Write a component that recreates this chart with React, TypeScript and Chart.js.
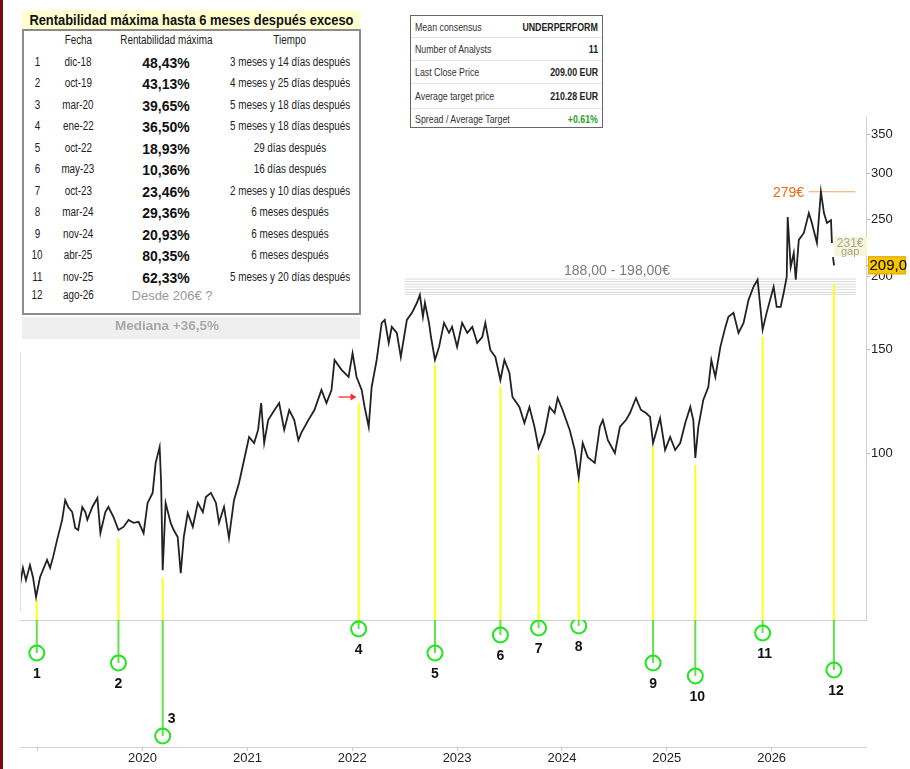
import React, { useEffect, useRef } from "react";
import { Chart, registerables } from "chart.js";

Chart.register(...registerables);

const FONT = '"Liberation Sans", Arial, Helvetica, sans-serif';

// ---------- price series (decimal year, EUR) ----------
const priceDates = [
  2018.831, 2018.859, 2018.888, 2018.926, 2018.955, 2018.984, 2019.022, 2019.089, 2019.118, 2019.147,
  2019.185, 2019.233, 2019.262, 2019.291, 2019.329, 2019.358, 2019.386, 2019.425, 2019.454, 2019.473,
  2019.521, 2019.569, 2019.598, 2019.645, 2019.674, 2019.722, 2019.770, 2019.818, 2019.866, 2019.914,
  2019.962, 2020.010, 2020.048, 2020.096, 2020.125, 2020.163, 2020.177, 2020.192, 2020.220, 2020.268,
  2020.297, 2020.335, 2020.364, 2020.393, 2020.431, 2020.479, 2020.527, 2020.575, 2020.604, 2020.652,
  2020.700, 2020.729, 2020.777, 2020.824, 2020.872, 2020.920, 2020.968, 2021.016, 2021.064, 2021.102,
  2021.131, 2021.160, 2021.198, 2021.246, 2021.303, 2021.351, 2021.399, 2021.447, 2021.486, 2021.514,
  2021.581, 2021.639, 2021.706, 2021.754, 2021.802, 2021.831, 2021.898, 2021.965, 2022.003, 2022.041,
  2022.090, 2022.118, 2022.157, 2022.185, 2022.233, 2022.281, 2022.310, 2022.348, 2022.377, 2022.425,
  2022.463, 2022.521, 2022.569, 2022.617, 2022.645, 2022.674, 2022.693, 2022.732, 2022.751, 2022.789,
  2022.828, 2022.875, 2022.923, 2022.952, 2023.000, 2023.048, 2023.097, 2023.145, 2023.192, 2023.240,
  2023.269, 2023.317, 2023.365, 2023.413, 2023.451, 2023.499, 2023.528, 2023.594, 2023.642, 2023.690,
  2023.738, 2023.777, 2023.834, 2023.882, 2023.930, 2023.959, 2024.006, 2024.074, 2024.122, 2024.160,
  2024.198, 2024.246, 2024.313, 2024.361, 2024.390, 2024.438, 2024.505, 2024.553, 2024.610, 2024.649,
  2024.706, 2024.754, 2024.802, 2024.840, 2024.869, 2024.936, 2024.984, 2025.032, 2025.080, 2025.128,
  2025.176, 2025.224, 2025.253, 2025.272, 2025.301, 2025.348, 2025.396, 2025.425, 2025.463, 2025.511,
  2025.559, 2025.588, 2025.636, 2025.684, 2025.732, 2025.780, 2025.827, 2025.866, 2025.895, 2025.914,
  2025.952, 2026.019, 2026.048, 2026.086, 2026.115, 2026.144, 2026.153, 2026.182, 2026.211, 2026.230,
  2026.259, 2026.307, 2026.355, 2026.384, 2026.432, 2026.470, 2026.499, 2026.528, 2026.566, 2026.575,
  2026.580, 2026.585, 2026.595,
];
const priceValues: (number | null)[] = [
  59.5, 63.7, 60.7, 64.4, 61.4, 56.8, 61.4, 65.7, 63.7, 66.5,
  71.1, 76.9, 83.1, 80.9, 79.3, 74.5, 73.9, 80.9, 79.3, 76.9,
  80.9, 83.8, 73.0, 79.3, 80.9, 77.8, 73.9, 74.8, 76.9, 76.0,
  76.3, 73.0, 82.2, 85.5, 96.2, 102.4, 88.9, 63.1, 82.2, 76.0,
  73.9, 71.9, 62.4, 71.9, 79.0, 74.8, 82.2, 79.3, 84.1, 85.5,
  82.2, 76.0, 80.9, 71.6, 83.1, 88.9, 97.3, 106.5, 104.0, 109.5,
  121.7, 104.0, 113.8, 117.5, 121.7, 109.5, 118.4, 113.8, 105.2, 108.2,
  113.8, 118.4, 128.1, 121.7, 128.1, 144.1, 138.6, 134.8, 148.0, 134.8,
  128.1, 119.8, 110.8, 129.6, 144.1, 166.7, 168.7, 154.1, 164.1, 160.3,
  145.8, 168.7, 173.4, 180.4, 186.1, 170.7, 180.4, 166.7, 157.7, 144.1,
  151.7, 166.7, 160.3, 164.1, 151.7, 166.7, 160.3, 164.1, 154.1, 157.7,
  166.7, 149.9, 145.8, 133.2, 144.1, 136.9, 124.6, 119.8, 112.5, 119.8,
  110.8, 102.0, 108.2, 119.8, 117.0, 124.1, 118.4, 109.5, 101.2, 91.0,
  104.0, 98.4, 96.2, 110.8, 113.8, 105.2, 100.0, 110.8, 113.8, 117.0,
  124.1, 118.4, 117.0, 115.2, 104.0, 114.7, 101.2, 106.5, 101.2, 104.0,
  112.5, 119.8, 113.8, 98.1, 110.8, 123.2, 129.6, 144.1, 134.8, 151.7,
  164.1, 170.7, 173.4, 160.3, 166.7, 182.5, 192.1, 197.5, 175.5, 162.2,
  173.4, 192.1, 177.5, 177.5, 187.6, 199.8, 252.6, 207.7, 219.3, 197.5,
  230.9, 237.3, 256.6, 246.8, 228.1, 279.0, 256.6, 246.8, 249.6, 228.1,
  null, 215.9, 209.0,
];

// ---------- signals ----------
const eventLabels = ["1", "2", "3", "4", "5", "6", "7", "8", "9", "10", "11", "12"];
const eventDates = [2018.991, 2019.770, 2020.192, 2022.061, 2022.789, 2023.413, 2023.777, 2024.160, 2024.869, 2025.272, 2025.914, 2026.594];
const eventLows = [56.1, 71.6, 61.2, 121.7, 141.3, 129.6, 99.2, 89.9, 102.4, 95.4, 157.7, 194.4];
const eventDepths = [33, 43, 116, 9, 33, 15, 8, 6, 43, 56, 13, 50];

// ---------- axes ----------
const yearTicks = [2019, 2020, 2021, 2022, 2023, 2024, 2025, 2026];
const yearTickLabels = ["", "2020", "2021", "2022", "2023", "2024", "2025", "2026"];
const priceTicks = [100, 150, 200, 250, 300, 350];
const priceTickLabels = ["100", "150", "200", "250", "300", "350"];
const X_MIN = 2018.831;
const X_MAX = 2026.9;
const PRICE_MIN = 51.9;
const PRICE_MAX = 374.2;
const DEPTH_MAX = 127;

// ---------- annotations ----------
const bandLevels = [198, 196, 194, 192, 190, 188, 186.5];
const bandStart = 2022.5;
const bandEnd = 2026.805;
const bandLabel = "188,00 - 198,00€";
const bandLabelDate = 2024.02;
const bandLabelPrice = 204.5;
const peakPrice = 279;
const peakLabel = "279€";
const peakLabelDate = 2026.31;
const peakLineStart = 2026.355;
const peakLineEnd = 2026.8;
const gapPrice = 231;
const gapLabel = "231€";
const gapSub = "gap";
const gapLabelDate = 2026.749;
const lastClose = 209.0;
const lastCloseLabel = "209,0";
const arrowFrom = 2021.869;
const arrowTo = 2022.041;
const arrowPrice = 124.6;

// ---------- table ----------
const tableHeader = ["Fecha", "Rentabilidad máxima", "Tiempo"];
const tableIndex = ["1", "2", "3", "4", "5", "6", "7", "8", "9", "10", "11", "12"];
const tableFecha = ["dic-18", "oct-19", "mar-20", "ene-22", "oct-22", "may-23", "oct-23", "mar-24", "nov-24", "abr-25", "nov-25", "ago-26"];
const tableRent = ["48,43%", "43,13%", "39,65%", "36,50%", "18,93%", "10,36%", "23,46%", "29,36%", "20,93%", "80,35%", "62,33%"];
const tableTiempo = [
  "3 meses y 14 días después", "4 meses y 25 días después", "5 meses y 18 días después", "5 meses y 18 días después",
  "29 días después", "16 días después", "2 meses y 10 días después", "6 meses después", "6 meses después",
  "6 meses después", "5 meses y 20 días después",
];
const tableLastNote = "Desde 206€ ?";
const tableTitle = "Rentabilidad máxima hasta 6 meses después exceso";
const medianLabel = "Mediana +36,5%";

const infoLabels = ["Mean consensus", "Number of Analysts", "Last Close Price", "Average target price", "Spread / Average Target"];
const infoValues = ["UNDERPERFORM", "11", "209.00 EUR", "210.28 EUR", "+0.61%"];

const overlayPlugin = {
  id: "overlayText",
  afterDatasetsDraw(chart: any) {
    const { ctx, chartArea } = chart;
    const x = chart.scales.x;
    const y = chart.scales.y;
    const y2 = chart.scales.y2;
    ctx.save();
    // left border of plot (below the table)
    ctx.strokeStyle = "#dedede";
    ctx.lineWidth = 1;
    ctx.beginPath();
    ctx.moveTo(chartArea.left + 0.5, y.top + 235);
    ctx.lineTo(chartArea.left + 0.5, y.bottom - 8);
    ctx.stroke();

    // band label
    ctx.font = `14px ${FONT}`;
    ctx.fillStyle = "#7a7a7a";
    ctx.textAlign = "left";
    ctx.textBaseline = "middle";
    ctx.fillText(bandLabel, x.getPixelForValue(bandLabelDate), y.getPixelForValue(bandLabelPrice));

    // peak label
    ctx.fillStyle = "#e8690f";
    ctx.textAlign = "right";
    ctx.fillText(peakLabel, x.getPixelForValue(peakLabelDate), y.getPixelForValue(peakPrice) + 1);

    // gap label
    const gx = x.getPixelForValue(gapLabelDate);
    const gy = y.getPixelForValue(gapPrice);
    ctx.fillStyle = "#f6f6d4";
    ctx.fillRect(gx - 16, gy - 3, 33, 19);
    ctx.fillStyle = "#a3a3a3";
    ctx.textAlign = "center";
    ctx.font = `12px ${FONT}`;
    ctx.fillText(gapLabel, gx, gy + 4);
    ctx.font = `11px ${FONT}`;
    ctx.fillText(gapSub, gx, gy + 12.5);

    // red arrow
    const ax0 = x.getPixelForValue(arrowFrom);
    const ax1 = x.getPixelForValue(arrowTo);
    const ay = y.getPixelForValue(arrowPrice);
    ctx.strokeStyle = "#ff2a2a";
    ctx.fillStyle = "#ff2a2a";
    ctx.lineWidth = 1.3;
    ctx.beginPath();
    ctx.moveTo(ax0, ay);
    ctx.lineTo(ax1 - 3, ay);
    ctx.stroke();
    ctx.beginPath();
    ctx.moveTo(ax1, ay);
    ctx.lineTo(ax1 - 6, ay - 3.5);
    ctx.lineTo(ax1 - 6, ay + 3.5);
    ctx.closePath();
    ctx.fill();

    // circle labels
    ctx.font = `bold 14px ${FONT}`;
    ctx.fillStyle = "#111";
    ctx.textAlign = "center";
    ctx.textBaseline = "middle";
    eventLabels.forEach((lab, i) => {
      const px = x.getPixelForValue(eventDates[i]);
      const py = y2.getPixelForValue(eventDepths[i]);
      if (i === 2) ctx.fillText(lab, px + 9, py - 17);
      else ctx.fillText(lab, px + (lab.length > 1 ? 2 : 0), py + 21);
    });
    ctx.restore();
  },
  afterDraw(chart: any) {
    const { ctx, chartArea } = chart;
    const y = chart.scales.y;
    const py = y.getPixelForValue(lastClose);
    const left = chartArea.right + 2;
    ctx.save();
    ctx.strokeStyle = "#aaa";
    ctx.beginPath();
    ctx.moveTo(chartArea.right, py + 0.5);
    ctx.lineTo(chartArea.right + 3, py + 0.5);
    ctx.stroke();
    ctx.fillStyle = "#f7c500";
    ctx.fillRect(left, py - 9, 38, 18);
    ctx.strokeStyle = "#dba900";
    ctx.strokeRect(left + 0.5, py - 8.5, 37, 17);
    ctx.fillStyle = "#000";
    ctx.font = `15px ${FONT}`;
    ctx.textAlign = "left";
    ctx.textBaseline = "middle";
    ctx.fillText(lastCloseLabel, left + 1.5, py + 1);
    ctx.restore();
  },
};

function buildConfig(): any {
  const priceData = priceDates.map((d, i) => ({ x: d, y: priceValues[i] }));
  const yellowData = eventDates.flatMap((d, i) => [
    { x: d, y: eventLows[i] },
    { x: d, y: PRICE_MIN },
    { x: d, y: null },
  ]);
  const greenData = eventDates.flatMap((d, i) => [
    { x: d, y: 0 },
    { x: d, y: eventDepths[i] },
    { x: d, y: null },
  ]);
  const circleData = eventDates.map((d, i) => ({ x: d, y: eventDepths[i] }));
  const bandData = bandLevels.flatMap((l) => [
    { x: bandStart, y: l },
    { x: bandEnd, y: l },
    { x: bandEnd, y: null },
  ]);
  const peakData = [
    { x: peakLineStart, y: peakPrice },
    { x: peakLineEnd, y: peakPrice },
  ];
  const base = { pointRadius: 0, spanGaps: false, tension: 0, fill: false };
  return {
    type: "line",
    data: {
      datasets: [
        { ...base, data: bandData, yAxisID: "y", borderColor: "#dadada", borderWidth: 1, order: 5 },
        { ...base, data: yellowData, yAxisID: "y", borderColor: "#ffff1a", borderWidth: 2, order: 4 },
        { ...base, data: greenData, yAxisID: "y2", borderColor: "#62e24a", borderWidth: 2, order: 3 },
        { ...base, data: peakData, yAxisID: "y", borderColor: "#f2a06a", borderWidth: 1, order: 2 },
        { ...base, data: priceData, yAxisID: "y", borderColor: "#222222", borderWidth: 1.8, order: 1 },
        {
          data: circleData,
          yAxisID: "y2",
          showLine: false,
          pointRadius: 7.5,
          pointHoverRadius: 7.5,
          pointBorderWidth: 2,
          pointBorderColor: "#1fe61f",
          pointBackgroundColor: "rgba(0,0,0,0)",
          order: 0,
        },
      ],
    },
    options: {
      animation: false,
      responsive: false,
      maintainAspectRatio: false,
      events: [],
      layout: { padding: { left: 20, top: 117, right: 0, bottom: 0 } },
      plugins: { legend: { display: false }, tooltip: { enabled: false } },
      scales: {
        x: {
          type: "linear",
          position: "bottom",
          min: X_MIN,
          max: X_MAX,
          afterBuildTicks: (s: any) => {
            s.ticks = yearTicks.map((v) => ({ value: v }));
          },
          afterFit: (s: any) => {
            s.height = 22;
          },
          ticks: {
            callback: (_v: any, i: number) => yearTickLabels[i],
            font: { family: FONT, size: 13 },
            color: "#222",
            padding: 0,
            maxRotation: 0,
            autoSkip: false,
          },
          grid: { drawOnChartArea: false, drawTicks: true, tickLength: 4, color: "#c8c8c8" },
          border: { color: "#d0d0d0" },
        },
        y: {
          type: "logarithmic",
          position: "right",
          stack: "panels",
          stackWeight: 503,
          min: PRICE_MIN,
          max: PRICE_MAX,
          afterBuildTicks: (s: any) => {
            s.ticks = priceTicks.map((v) => ({ value: v }));
          },
          afterFit: (s: any) => {
            s.width = 44;
          },
          ticks: {
            callback: (_v: any, i: number) => priceTickLabels[i],
            font: { family: FONT, size: 13 },
            color: "#222",
            padding: 1,
            autoSkip: false,
          },
          grid: { drawOnChartArea: false, drawTicks: true, tickLength: 4, color: "#b5b5b5" },
          border: { color: "#d0d0d0" },
        },
        y2: {
          type: "linear",
          position: "right",
          stack: "panels",
          stackWeight: 127,
          min: 0,
          max: DEPTH_MAX,
          reverse: true,
          afterBuildTicks: (s: any) => {
            s.ticks = [{ value: 0 }];
          },
          afterFit: (s: any) => {
            s.width = 44;
          },
          ticks: { display: false },
          grid: { drawOnChartArea: true, drawTicks: false, color: "#cfcfcf" },
          border: { display: false },
        },
      },
    },
    plugins: [overlayPlugin],
  };
}

function Cell(props: { cx: number; cy: number; w?: number; sx?: number; style?: React.CSSProperties; children: React.ReactNode }) {
  const w = props.w ?? 180;
  return (
    <div
      style={{
        position: "absolute",
        left: props.cx - w / 2,
        top: props.cy - 10,
        width: w,
        height: 20,
        lineHeight: "20px",
        textAlign: "center",
        whiteSpace: "nowrap",
        ...props.style,
      }}
    >
      <span style={{ display: "inline-block", transform: `scaleX(${props.sx ?? 1})`, transformOrigin: "center" }}>
        {props.children}
      </span>
    </div>
  );
}

export default function App() {
  const ref = useRef<HTMLCanvasElement>(null);
  useEffect(() => {
    const chart = new Chart(ref.current as HTMLCanvasElement, buildConfig());
    return () => chart.destroy();
  }, []);

  const narrow: React.CSSProperties = { font: `12.5px ${FONT}`, color: "#222" };
  const NS = 0.79;
  const rowY = (i: number) => (i < 11 ? 65 + i * 21.45 : 298);
  const infoHeights = [22, 23, 23, 25, 19];

  return (
    <div style={{ position: "relative", width: 910, height: 769, background: "#fff", overflow: "hidden", fontFamily: FONT }}>
      <style>{"html,body{margin:0;padding:0;background:#fff}"}</style>
      <canvas ref={ref} width={910} height={769} style={{ position: "absolute", left: 0, top: 0, width: 910, height: 769 }} />
      <div style={{ position: "absolute", left: 0, top: 0, width: 3, height: 769, background: "#7d0b0b" }} />

      {/* table title */}
      <div
        style={{
          position: "absolute",
          left: 22,
          top: 10,
          width: 338,
          height: 19,
          background: "#ffffd0",
          font: `bold 15px ${FONT}`,
          color: "#111",
          textAlign: "center",
          lineHeight: "19px",
          whiteSpace: "nowrap",
        }}
      >
        <span style={{ display: "inline-block", transform: "scaleX(0.86)", transformOrigin: "center", marginLeft: -40, marginRight: -40 }}>
          {tableTitle}
        </span>
      </div>
      <div
        style={{
          position: "absolute",
          left: 22,
          top: 29,
          width: 339,
          height: 286,
          border: "2px solid #8c8c8c",
          boxSizing: "border-box",
          background: "#fff",
        }}
      />
      <Cell cx={78} cy={43} sx={NS} style={narrow}>{tableHeader[0]}</Cell>
      <Cell cx={166} cy={43} sx={NS} style={narrow}>{tableHeader[1]}</Cell>
      <Cell cx={290} cy={43} sx={NS} style={narrow}>{tableHeader[2]}</Cell>
      {tableIndex.map((n, i) => (
        <React.Fragment key={n}>
          <Cell cx={37} cy={rowY(i)} w={30} sx={NS} style={narrow}>{n}</Cell>
          <Cell cx={78} cy={rowY(i)} w={60} sx={NS} style={narrow}>{tableFecha[i]}</Cell>
          {i < tableRent.length ? (
            <Cell cx={166} cy={rowY(i)} w={100} style={{ font: `bold 14px ${FONT}`, color: "#111" }}>{tableRent[i]}</Cell>
          ) : (
            <Cell cx={172} cy={rowY(i)} w={120} style={{ font: `13px ${FONT}`, color: "#9a9a9a" }}>{tableLastNote}</Cell>
          )}
          {i < tableTiempo.length ? (
            <Cell cx={290} cy={rowY(i)} w={170} sx={NS} style={narrow}>{tableTiempo[i]}</Cell>
          ) : null}
        </React.Fragment>
      ))}
      <div style={{ position: "absolute", left: 22, top: 317, width: 338, height: 22, background: "#efefef" }} />
      <Cell cx={167} cy={328} w={160} style={{ font: `bold 13.5px ${FONT}`, color: "#a8a8a8" }}>{medianLabel}</Cell>

      {/* info box */}
      <div
        style={{
          position: "absolute",
          left: 410,
          top: 15,
          width: 193,
          height: 113,
          border: "1px solid #666",
          boxSizing: "border-box",
          background: "#fff",
        }}
      >
        {infoLabels.map((lab, i) => (
          <div
            key={lab}
            style={{
              display: "flex",
              justifyContent: "space-between",
              alignItems: "center",
              height: infoHeights[i] - (i < 4 ? 1 : 0),
              borderBottom: i < 4 ? "1px solid #e2e2e2" : "none",
              padding: "0 4px",
              font: `10.5px ${FONT}`,
              color: "#333",
              whiteSpace: "nowrap",
            }}
          >
            <span style={{ display: "inline-block", transform: "scaleX(0.84)", transformOrigin: "left center" }}>{lab}</span>
            <span
              style={{
                display: "inline-block",
                transform: "scaleX(0.84)",
                transformOrigin: "right center",
                fontWeight: "bold",
                color: i === 4 ? "#2aa02a" : "#222",
              }}
            >
              {infoValues[i]}
            </span>
          </div>
        ))}
      </div>
    </div>
  );
}
